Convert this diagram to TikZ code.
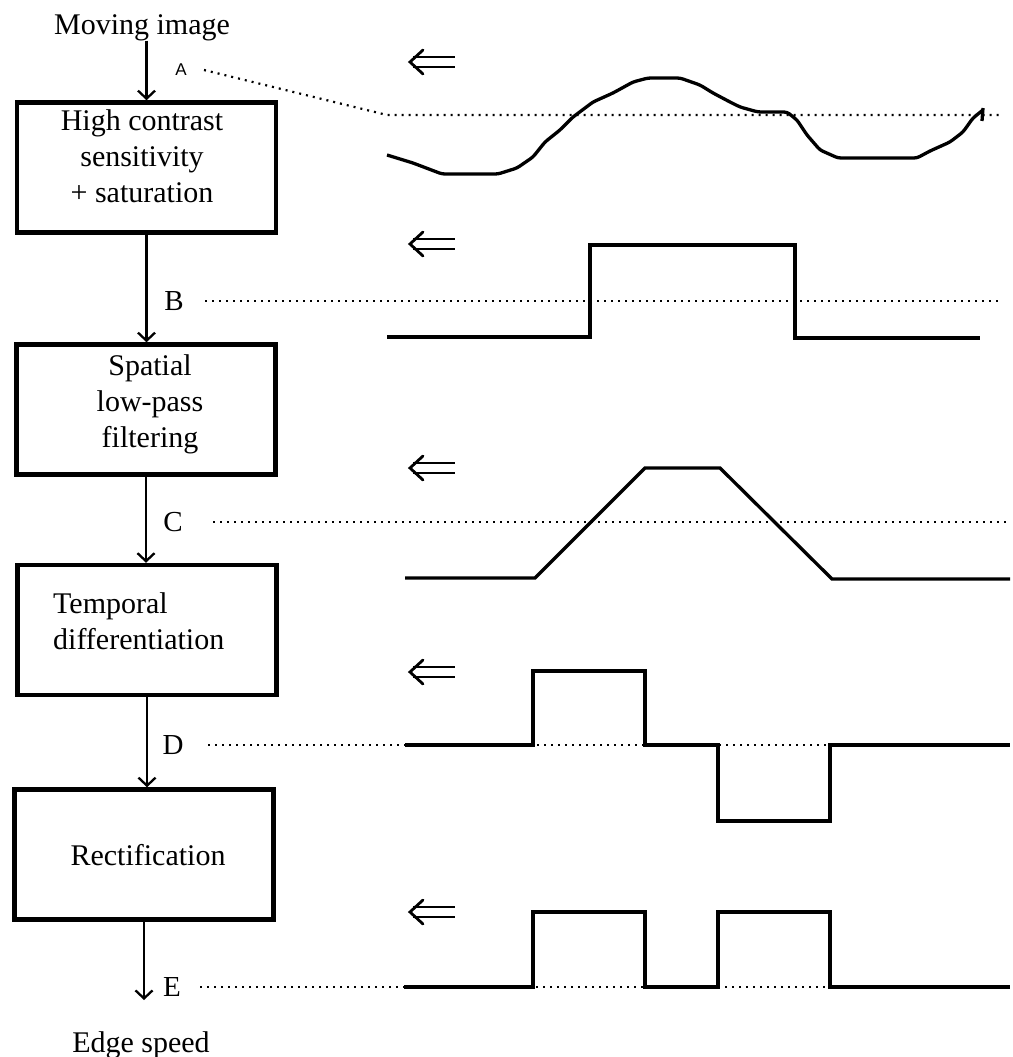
\documentclass[tikz,border=0pt]{standalone}
\usepackage{fontspec}
\setmainfont{Liberation Serif}
\newfontfamily\labelsans{Liberation Sans}
\usetikzlibrary{arrows.meta}
\begin{document}
\begin{tikzpicture}[x=1pt,y=-1pt,
  stage/.style={draw, line width=4.5pt, minimum width=259pt, minimum height=130pt, inner sep=0pt},
  caption/.style={inner sep=0pt, font=\fontsize{30}{36}\selectfont, align=center},
  tap/.style={inner sep=0pt, font=\fontsize{29}{34}\selectfont},
  tapA/.style={inner sep=0pt, font=\labelsans\fontsize{17}{20}\selectfont},
  flow/.style={line width=2.3pt, -{Straight Barb[length=8pt,width=17pt]}},
  ref/.style={line width=2.2pt, dash pattern=on 2pt off 5pt},
  wave/.style={line width=3.3pt, line join=miter},
  leftdbl/.pic={
    \draw[line width=2.8pt, line cap=round] (13,-12) -- (0,0) -- (13,12);
    \draw[line width=2.8pt] (3,-5) -- (45,-5) (3,5) -- (45,5);
  }
]
\useasboundingbox (0,0) rectangle (1012,1057);

% processing chain
\node[caption, anchor=north] (mov) at (142,14) {Moving image};
\node[stage] (box1) at (146.5,167.5) {};
\node[stage] (box2) at (146,409.5) {};
\node[stage] (box3) at (147,630) {};
\node[stage] (box4) at (144,854.5) {};
\node[caption, anchor=north] (out) at (141,1031) {Edge speed};
\coordinate (tail) at (144,1000);

\node[caption, anchor=north] (t1) at (142,109) {High contrast\\sensitivity\\+ saturation};
\node[caption, anchor=north] (t2) at (150,354) {Spatial\\low-pass\\filtering};
\node[caption, anchor=north west, align=left] (t3) at (53,592) {Temporal\\differentiation};
\node[caption, anchor=north] (t4) at (148,844) {Rectification};

\draw[flow] (box1.north |- mov.south) -- (box1.north);
\draw[flow] (box1.south) -- (box1.south |- box2.north);
\draw[flow] (box2.south) -- (box2.south |- box3.north);
\draw[flow] (box3.south) -- (box3.south |- box4.north);
\draw[flow] (box4.south) -- (box4.south |- tail);

% tap labels
\node[tapA] (lA) at (181,70) {A};
\node[tap] (lB) at (174,301) {B};
\node[tap] (lC) at (173,522) {C};
\node[tap] (lD) at (173,745) {D};
\node[tap] (lE) at (172,987) {E};

% motion direction
\pic at (410,62) {leftdbl};
\pic at (410,244) {leftdbl};
\pic at (410,468) {leftdbl};
\pic at (410,672) {leftdbl};
\pic at (410,912) {leftdbl};

% reference levels
\coordinate (aL) at (204,70);
\coordinate (aK) at (387,115);
\coordinate (aR) at (1000,115);
\draw[ref] (aL) -- (aK) -- (aR);
\draw[ref] (205,301) -- (998,301);
\draw[ref] (213,522) -- (1010,522);
\draw[ref] (208,745) -- (1010,745);
\draw[ref] (200,987) -- (1010,987);

% A: raw luminance profile
\draw[wave, rounded corners=3pt] (387,155) -- (413,163) -- (442,174) -- (498,174) -- (517,168)
  -- (533,157) -- (545,142) -- (560,130) -- (573,117) -- (593,102) -- (613,93) -- (633,82)
  -- (648,78) -- (680,78) -- (700,85) -- (713,93) -- (730,102) -- (740,107) -- (758,112)
  -- (787,112) -- (797,120) -- (807,135) -- (820,150) -- (838,158) -- (917,158) -- (930,151)
  -- (950,142) -- (963,132) -- (973,118) -- (983,110);
\draw[wave] (983,108) -- (982,121);

% B: saturated step
\draw[wave] (387,337) -- (590,337) -- (590,245) -- (795,245) -- (795,338) -- (980,338);

% C: low-pass ramp
\draw[wave] (405,578) -- (535,578) -- (645,468) -- (720,468) -- (832,579) -- (1010,579);

% D: temporal derivative
\draw[wave] (405,745) -- (533,745) -- (533,671) -- (645,671) -- (645,745) -- (718,745)
  -- (718,821) -- (830,821) -- (830,745) -- (1010,745);

% E: rectified output
\draw[wave] (404,987) -- (533,987) -- (533,912) -- (645,912) -- (645,987) -- (718,987)
  -- (718,912) -- (830,912) -- (830,987) -- (1010,987);
\end{tikzpicture}
\end{document}
